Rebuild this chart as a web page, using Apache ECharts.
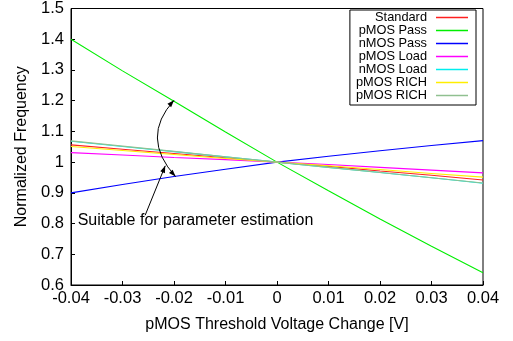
<!DOCTYPE html>
<html>
<head>
<meta charset="utf-8">
<script src="https://cdn.jsdelivr.net/npm/echarts@6/dist/echarts.min.js"></script>
<style>
  html, body { margin: 0; padding: 0; background: #fff; }
  #chart { width: 513px; height: 341px; }
</style>
</head>
<body>
<div id="chart"></div>
<script>
// pMOS threshold voltage change [V]
const voltageSteps = [-0.04, -0.03, -0.02, -0.01, 0, 0.01, 0.02, 0.03, 0.04]

// normalized frequency per configuration
const standard  = [1.056, 1.042, 1.028, 1.014, 1.0, 0.986, 0.971, 0.957, 0.942]
const pmosPass  = [1.400, 1.297, 1.198, 1.098, 1.0, 0.907, 0.815, 0.726, 0.640]
const nmosPass  = [0.900, 0.927, 0.953, 0.977, 1.0, 1.019, 1.037, 1.054, 1.070]
const pmosLoad  = [1.031, 1.023, 1.015, 1.008, 1.0, 0.992, 0.983, 0.974, 0.965]
const nmosLoad  = [1.068, 1.051, 1.034, 1.017, 1.0, 0.983, 0.966, 0.949, 0.931]
const pmosRich1 = [1.051, 1.038, 1.025, 1.012, 1.0, 0.988, 0.976, 0.963, 0.951]
const pmosRich2 = [1.069, 1.052, 1.035, 1.017, 1.0, 0.983, 0.966, 0.949, 0.932]

const seriesNames = ["Standard", "pMOS Pass", "nMOS Pass", "pMOS Load", "nMOS Load", "pMOS RICH", "pMOS RICH #2"]
const seriesValues = [standard, pmosPass, nmosPass, pmosLoad, nmosLoad, pmosRich1, pmosRich2]
const seriesColors = ["#ff2020", "#00ee00", "#0000ff", "#ff00ff", "#00eeee", "#ffee00", "#90c090"]

// annotation anchors in data space
const noteText = "Suitable for parameter estimation"
const notePos = [-0.0387, 0.81]
const curveFrom = [-0.0197, 0.953]   // on nMOS Pass
const curveTo = [-0.02, 1.201]       // on pMOS Pass
const curveCtrl = [-0.0266, 1.08]
const arrowFrom = [-0.0256, 0.827]
const arrowTo = [-0.0217, 0.988]

const chart = echarts.init(document.getElementById("chart"))
const font = "Liberation Sans, Arial, Helvetica, sans-serif"

const series = seriesNames.map((name, i) => ({
  name,
  type: "line",
  symbol: "none",
  data: voltageSteps.map((v, j) => [v, seriesValues[i][j]]),
  lineStyle: { color: seriesColors[i], width: 1.1 },
  itemStyle: { color: seriesColors[i] },
  emphasis: { disabled: true },
}))

chart.setOption({
  animation: false,
  backgroundColor: "#fff",
  grid: {
    left: 71,
    right: 30,
    top: 7,
    bottom: 56,
    show: true,
    borderColor: "#000",
    borderWidth: 1,
  },
  legend: {
    orient: "vertical",
    right: 37,
    top: 10,
    align: "right",
    icon: "rect",
    itemGap: 0,
    itemWidth: 32,
    itemHeight: 1.5,
    padding: [1, 8, 3, 6],
    backgroundColor: "#fff",
    borderColor: "#000",
    borderWidth: 1,
    formatter: (name) => name.replace(/ #\d$/, ""),
    textStyle: { fontFamily: font, fontSize: 12.8, lineHeight: 12.7, color: "#000", padding: [0, 4, 0, 0] },
    data: seriesNames,
  },
  xAxis: {
    type: "value",
    min: -0.04,
    max: 0.04,
    interval: 0.01,
    name: "pMOS Threshold Voltage Change [V]",
    nameLocation: "middle",
    nameGap: 32,
    nameTextStyle: { fontFamily: font, fontSize: 16, color: "#000" },
    axisLine: { onZero: false, lineStyle: { color: "#000", width: 1 } },
    axisTick: { inside: true, length: 4, lineStyle: { color: "#000" } },
    axisLabel: {
      fontFamily: font,
      fontSize: 16.5,
      color: "#000",
      margin: 5,
      formatter: (v) => String(+v.toFixed(2)),
    },
    splitLine: { show: false },
  },
  yAxis: {
    type: "value",
    min: 0.6,
    max: 1.5,
    interval: 0.1,
    name: "Normalized Frequency",
    nameLocation: "middle",
    nameGap: 41,
    nameTextStyle: { fontFamily: font, fontSize: 16, color: "#000" },
    axisLine: { show: true, onZero: false, lineStyle: { color: "#000", width: 1 } },
    axisTick: { show: true, inside: true, length: 4, lineStyle: { color: "#000" } },
    axisLabel: {
      fontFamily: font,
      fontSize: 16.5,
      color: "#000",
      margin: 7,
      formatter: (v) => String(+v.toFixed(1)),
    },
    splitLine: { show: false },
  },
  series,
})

// arrows and note, placed through the grid's scales
const px = (p) => chart.convertToPixel({ gridIndex: 0 }, p)

function arrowHead(tip, from, len, half) {
  const dx = tip[0] - from[0]
  const dy = tip[1] - from[1]
  const d = Math.hypot(dx, dy) || 1
  const ux = dx / d, uy = dy / d
  const bx = tip[0] - ux * len, by = tip[1] - uy * len
  return {
    type: "polygon",
    shape: { points: [tip, [bx - uy * half, by + ux * half], [bx + uy * half, by - ux * half]] },
    style: { fill: "#000" },
    z: 100,
  }
}

const c0 = px(curveFrom), c1 = px(curveTo), cc = px(curveCtrl)
const a0 = px(arrowFrom), a1 = px(arrowTo)
const tp = px(notePos)

chart.setOption({
  graphic: [
    {
      type: "bezierCurve",
      shape: { x1: c0[0], y1: c0[1], x2: c1[0], y2: c1[1], cpx1: cc[0], cpy1: cc[1] },
      style: { stroke: "#000", lineWidth: 1, fill: null },
      z: 100,
    },
    arrowHead(c0, cc, 7, 2.5),
    arrowHead(c1, cc, 7, 2.5),
    {
      type: "line",
      shape: { x1: a0[0], y1: a0[1], x2: a1[0], y2: a1[1] },
      style: { stroke: "#000", lineWidth: 1 },
      z: 100,
    },
    arrowHead(a1, a0, 7, 2.5),
    {
      type: "text",
      x: tp[0],
      y: tp[1],
      style: {
        text: noteText,
        fontFamily: font,
        fontSize: 16,
        fill: "#000",
        textVerticalAlign: "middle",
      },
      z: 99,
    },
  ],
})

window.addEventListener("resize", () => chart.resize())
</script>
</body>
</html>
